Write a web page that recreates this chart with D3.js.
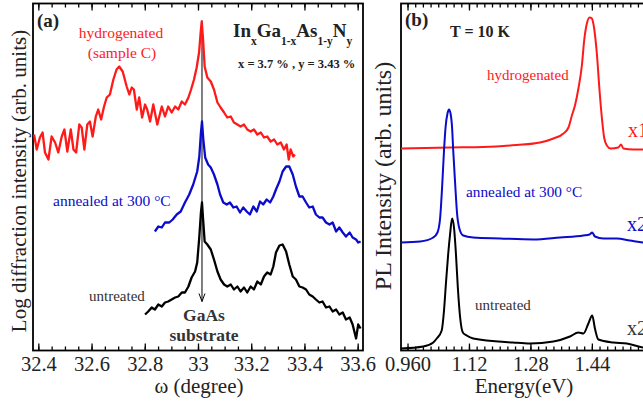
<!DOCTYPE html>
<html lang="en">
<head>
<meta charset="UTF-8" />
<title>InGaAsN rocking curves and PL</title>
<script src="https://d3js.org/d3.v7.min.js"></script>
<style>
  body { margin: 0; background: white; }
  svg { display: block; font-family: "Liberation Serif", "Times New Roman", serif; }
</style>
</head>
<body>
<div id="chart"></div>
<script>
  // (a) X-ray rocking curves: [omega (deg), log intensity (arb. units)]
  const xrdHydrogenated = [[32.384,216],[32.394,201],[32.406,213],[32.416,218],[32.425,198],[32.438,191],[32.450,214],[32.463,208],[32.475,198],[32.488,214],[32.498,221],[32.509,199],[32.522,221],[32.532,201],[32.542,198],[32.554,226],[32.563,223],[32.573,201],[32.584,226],[32.594,229],[32.604,214],[32.616,234],[32.625,241],[32.636,231],[32.647,244],[32.657,253],[32.669,256],[32.682,271],[32.694,281],[32.704,284],[32.717,279],[32.732,264],[32.742,256],[32.751,263],[32.759,261],[32.770,241],[32.779,253],[32.790,233],[32.801,246],[32.809,241],[32.820,229],[32.832,246],[32.847,226],[32.864,244],[32.876,234],[32.888,244],[32.901,238],[32.914,244],[32.926,241],[32.939,249],[32.951,246],[32.964,253],[32.974,261],[32.985,271],[32.995,283],[33.004,298],[33.010,318],[33.014,329],[33.019,311],[33.025,284],[33.035,273],[33.048,269],[33.060,261],[33.073,248],[33.085,243],[33.098,238],[33.110,233],[33.123,234],[33.135,228],[33.148,226],[33.160,224],[33.173,226],[33.185,221],[33.198,219],[33.210,221],[33.223,216],[33.236,218],[33.248,213],[33.260,214],[33.273,209],[33.286,211],[33.298,206],[33.311,208],[33.323,201],[33.333,206],[33.341,191],[33.348,201],[33.358,194],[33.364,196]];

  const xrdAnnealed = [[32.838,119],[32.851,124],[32.864,123],[32.876,128],[32.892,128],[32.905,131],[32.920,136],[32.935,139],[32.951,148],[32.967,156],[32.982,166],[32.997,179],[33.005,194],[33.011,218],[33.015,229],[33.020,211],[33.027,193],[33.038,186],[33.048,183],[33.060,176],[33.073,166],[33.083,156],[33.095,148],[33.108,146],[33.120,148],[33.133,143],[33.145,144],[33.158,138],[33.170,143],[33.183,139],[33.195,136],[33.208,144],[33.221,139],[33.233,149],[33.245,146],[33.258,151],[33.271,148],[33.283,154],[33.293,161],[33.306,169],[33.318,179],[33.331,184],[33.343,184],[33.356,176],[33.368,164],[33.381,154],[33.393,154],[33.406,148],[33.418,143],[33.431,144],[33.443,136],[33.456,133],[33.468,133],[33.481,128],[33.494,126],[33.506,128],[33.519,119],[33.531,123],[33.544,118],[33.556,114],[33.570,118],[33.581,113],[33.594,111],[33.602,108],[33.611,109]];

  const xrdUntreated = [[32.801,36],[32.813,39],[32.826,43],[32.838,41],[32.851,46],[32.864,44],[32.876,48],[32.888,49],[32.901,51],[32.914,53],[32.926,54],[32.939,58],[32.951,58],[32.964,64],[32.976,73],[32.989,79],[32.997,88],[33.005,114],[33.011,138],[33.015,148],[33.020,128],[33.025,109],[33.035,106],[33.048,101],[33.060,91],[33.073,79],[33.085,71],[33.098,66],[33.110,64],[33.123,66],[33.135,61],[33.148,64],[33.160,59],[33.173,63],[33.185,58],[33.198,64],[33.210,61],[33.223,69],[33.236,66],[33.248,74],[33.260,78],[33.273,76],[33.283,84],[33.293,98],[33.306,105],[33.318,106],[33.331,99],[33.343,86],[33.356,74],[33.368,71],[33.381,64],[33.393,63],[33.406,61],[33.418,56],[33.431,54],[33.443,51],[33.456,48],[33.468,49],[33.481,43],[33.494,44],[33.506,39],[33.519,41],[33.531,36],[33.544,38],[33.556,31],[33.570,33],[33.581,26],[33.594,12],[33.602,26],[33.611,22]];

  // GaAs substrate peak marker: omega, and arrow from/to intensity
  const substrateOmega = 33.015;
  const substrateArrow = [330, 49];

  // (b) PL at 10 K: [energy (eV), intensity (arb. units, offset)]
  const plHydrogenated = [[0.943,202],[1.071,203],[1.157,203.5],[1.244,205.5],[1.305,208],[1.340,212],[1.366,217],[1.379,223],[1.388,235],[1.396,245],[1.405,262],[1.414,285],[1.420,310],[1.427,327],[1.434,333],[1.440,332],[1.446,322],[1.453,297],[1.460,260],[1.466,233],[1.472,213],[1.479,205],[1.489,202],[1.509,203],[1.516,206],[1.522,202],[1.548,201],[1.600,201]];

  const plAnnealed = [[0.943,108],[0.993,109],[1.027,113],[1.038,118],[1.045,133],[1.050,163],[1.055,200],[1.059,223],[1.064,237],[1.068,241],[1.072,237],[1.076,223],[1.079,200],[1.084,167],[1.089,137],[1.095,122],[1.105,115],[1.131,113],[1.201,112],[1.288,111],[1.357,113],[1.418,115],[1.434,116],[1.441,118],[1.448,114],[1.470,112],[1.505,112],[1.539,110],[1.573,108],[1.600,107]];

  const plUntreated = [[0.943,2],[1.001,4],[1.027,8],[1.036,12],[1.049,20],[1.055,40],[1.060,67],[1.066,97],[1.071,117],[1.076,132],[1.081,123],[1.086,97],[1.091,63],[1.097,33],[1.104,18],[1.114,15],[1.131,12],[1.235,8],[1.279,7],[1.340,9],[1.383,14],[1.405,18],[1.418,17],[1.431,27],[1.441,35],[1.448,22],[1.457,11],[1.496,8],[1.531,7],[1.573,3],[1.600,2]];

  const omegaTicks = [32.4, 32.6, 32.8, 33.0, 33.2, 33.4, 33.6];
  const omegaLabels = ["32.4", "32.6", "32.8", "33", "33.2", "33.4", "33.6"];
  const energyTicks = [0.96, 1.12, 1.28, 1.44];
  const energyLabels = ["0.960", "1.12", "1.28", "1.44"];

  const width = 643;
  const height = 407;
  const plotTop = 3.5;
  const plotBottom = 350.5;

  const red = "#ff1a1a";
  const blue = "#0b0bcc";

  const svg = d3.select("#chart")
    .append("svg")
    .attr("width", width)
    .attr("height", height);

  const xA = d3.scaleLinear().domain([32.38, 33.62]).range([33, 363]);
  const xB = d3.scaleLinear().domain([0.943, 1.60]).range([401, 653.3]);
  const y = d3.scaleLinear().domain([0, 347]).range([plotBottom, plotTop]);

  function drawFrame(x, majors, labels, minorStep) {
    const [x0, x1] = x.range();
    const [d0, d1] = x.domain();
    const minors = d3.range(majors[0] - Math.floor((majors[0] - d0) / minorStep) * minorStep, d1, minorStep)
      .map(v => +v.toFixed(4));

    const g = svg.append("g");

    g.append("g")
      .attr("transform", `translate(0,${plotBottom})`)
      .call(d3.axisBottom(x).tickValues(minors).tickSize(-4).tickSizeOuter(0).tickFormat(""));
    g.append("g")
      .attr("transform", `translate(0,${plotBottom})`)
      .call(d3.axisBottom(x).tickValues(majors).tickSize(-7).tickSizeOuter(0).tickPadding(6)
        .tickFormat((d, i) => labels[i]));
    g.append("g")
      .attr("transform", `translate(0,${plotTop})`)
      .call(d3.axisTop(x).tickValues(minors).tickSize(-4).tickSizeOuter(0).tickFormat(""));
    g.append("g")
      .attr("transform", `translate(0,${plotTop})`)
      .call(d3.axisTop(x).tickValues(majors).tickSize(-7).tickSizeOuter(0).tickFormat(""));

    g.selectAll(".domain").remove();
    g.selectAll(".tick line").attr("stroke", "#000").attr("stroke-width", 1.3);
    g.selectAll(".tick text")
      .attr("font-family", "Liberation Serif, serif")
      .attr("font-size", 20.5)
      .attr("fill", "#222");
    g.selectAll("g").attr("font-family", null).attr("font-size", null);

    g.append("rect")
      .attr("x", x0)
      .attr("y", plotTop)
      .attr("width", x1 - x0)
      .attr("height", plotBottom - plotTop)
      .attr("fill", "none")
      .attr("stroke", "#000")
      .attr("stroke-width", 1.8);
  }

  drawFrame(xA, omegaTicks, omegaLabels, 0.05);
  drawFrame(xB, energyTicks, energyLabels, 0.02);

  const lineA = d3.line().x(d => xA(d[0])).y(d => y(d[1]));
  const lineB = d3.line().x(d => xB(d[0])).y(d => y(d[1])).curve(d3.curveMonotoneX);

  // substrate marker line + arrow
  const sx = xA(substrateOmega);
  svg.append("line")
    .attr("x1", sx).attr("x2", sx)
    .attr("y1", y(substrateArrow[0])).attr("y2", y(substrateArrow[1]))
    .attr("stroke", "#000").attr("stroke-width", 1);
  svg.append("path")
    .attr("d", `M${sx - 3},${y(substrateArrow[1]) - 8}L${sx},${y(substrateArrow[1])}L${sx + 3},${y(substrateArrow[1]) - 8}`)
    .attr("fill", "none").attr("stroke", "#000").attr("stroke-width", 1);

  [[xrdHydrogenated, red], [xrdAnnealed, blue], [xrdUntreated, "#000"]].forEach(([data, color]) => {
    svg.append("path")
      .datum(data)
      .attr("fill", "none")
      .attr("stroke", color)
      .attr("stroke-width", 2.3)
      .attr("stroke-linejoin", "round")
      .attr("d", lineA);
  });

  [[plHydrogenated, red], [plAnnealed, blue], [plUntreated, "#000"]].forEach(([data, color]) => {
    svg.append("path")
      .datum(data)
      .attr("fill", "none")
      .attr("stroke", color)
      .attr("stroke-width", 2)
      .attr("stroke-linejoin", "round")
      .attr("d", lineB);
  });

  function label(x, yPos, text, opts = {}) {
    return svg.append("text")
      .attr("x", x)
      .attr("y", yPos)
      .attr("font-size", opts.size || 15.5)
      .attr("font-weight", opts.bold ? "bold" : null)
      .attr("text-anchor", opts.anchor || "start")
      .attr("fill", opts.color || "#222")
      .text(text);
  }

  // panel (a) annotations
  label(37, 27, "(a)", {bold: true, size: 19});
  label(121, 38, "hydrogenated", {color: red, anchor: "middle"});
  label(122, 58, "(sample C)", {color: red, anchor: "middle"});
  label(53, 206, "annealed at 300 \u00b0C", {color: blue});
  label(89, 301, "untreated", {size: 15, color: "#333"});
  label(204, 321, "GaAs", {bold: true, size: 17.5, anchor: "middle", color: "#333"});
  label(204, 341, "substrate", {bold: true, size: 17.5, anchor: "middle", color: "#333"});

  const formula = svg.append("text")
    .attr("x", 233).attr("y", 37)
    .attr("font-weight", "bold")
    .attr("font-size", 19)
    .attr("fill", "#222");
  [["In", 0], ["x", 1], ["Ga", 0], ["1-x", 1], ["As", 0], ["1-y", 1], ["N", 0], ["y", 1]].forEach(([t, sub], i, arr) => {
    const prevSub = i > 0 ? arr[i - 1][1] : 0;
    formula.append("tspan")
      .attr("dy", (sub - prevSub) * 8)
      .attr("font-size", sub ? 11.5 : 19)
      .text(t);
  });
  label(238, 68, "x = 3.7 % , y = 3.43 %", {bold: true, size: 12.5});

  // panel (b) annotations
  label(405, 26, "(b)", {bold: true, size: 19});
  label(450, 37, "T = 10 K", {bold: true, size: 16});
  label(487, 80, "hydrogenated", {color: red, size: 15});
  label(466, 197, "annealed at 300 \u00b0C", {color: blue, size: 15.3});
  label(475, 310, "untreated", {size: 15, color: "#333"});
  label(628, 137, "x1", {color: red, size: 20});
  label(627, 231, "x2", {color: blue, size: 20});
  label(627, 335, "x2", {color: "#333", size: 20});

  // axis titles
  svg.append("text")
    .attr("transform", "translate(26,181) rotate(-90)")
    .attr("text-anchor", "middle")
    .attr("font-size", 21)
    .attr("fill", "#222")
    .text("Log diffraction intensity (arb. units)");
  svg.append("text")
    .attr("transform", "translate(391,176) rotate(-90)")
    .attr("text-anchor", "middle")
    .attr("font-size", 24)
    .attr("fill", "#222")
    .text("PL Intensity (arb. units)");
  svg.append("text")
    .attr("x", 199).attr("y", 393)
    .attr("text-anchor", "middle")
    .attr("font-size", 21)
    .attr("fill", "#222")
    .text("\u03c9 (degree)");
  svg.append("text")
    .attr("x", 524).attr("y", 393)
    .attr("text-anchor", "middle")
    .attr("font-size", 21)
    .attr("fill", "#222")
    .text("Energy(eV)");
</script>
</body>
</html>
